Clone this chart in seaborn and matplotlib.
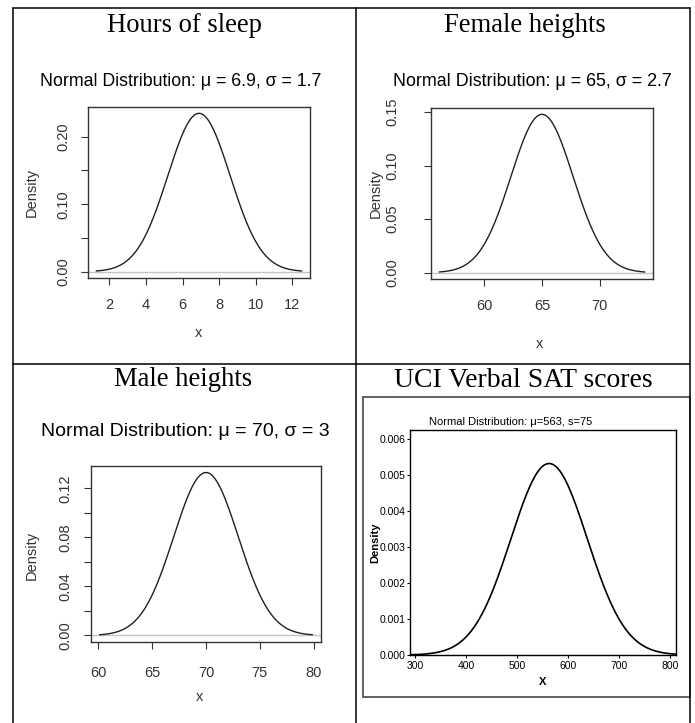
import numpy as np
import pandas as pd
import matplotlib
matplotlib.use("Agg")
import matplotlib.pyplot as plt
from matplotlib.lines import Line2D
from matplotlib.patches import Rectangle
import seaborn as sns

# ---------------- data ----------------
panel_titles = ["Hours of sleep", "Female heights", "Male heights", "UCI Verbal SAT scores"]
subtitles = ["Normal Distribution: \u03bc = 6.9, \u03c3 = 1.7",
             "Normal Distribution: \u03bc = 65, \u03c3 = 2.7",
             "Normal Distribution: \u03bc = 70, \u03c3 = 3",
             "Normal Distribution: \u03bc=563, s=75"]
means = [6.9, 65, 70, 563]
sds = [1.7, 2.7, 3, 75]

xticks_sleep = [2, 4, 6, 8, 10, 12]
yticks_sleep = [0.00, 0.05, 0.10, 0.15, 0.20]
ylabels_sleep = ["0.00", "", "0.10", "", "0.20"]

xticks_female = [60, 65, 70]
yticks_female = [0.00, 0.05, 0.10, 0.15]
ylabels_female = ["0.00", "0.05", "0.10", "0.15"]

xticks_male = [60, 65, 70, 75, 80]
yticks_male = [0.00, 0.02, 0.04, 0.06, 0.08, 0.10, 0.12]
ylabels_male = ["0.00", "", "0.04", "", "0.08", "", "0.12"]

xticks_sat = [300, 400, 500, 600, 700, 800]
yticks_sat = [0.000, 0.001, 0.002, 0.003, 0.004, 0.005, 0.006]
ylabels_sat = ["0.000", "0.001", "0.002", "0.003", "0.004", "0.005", "0.006"]
xlim_sat = (290, 812)
ylim_sat = (0, 0.00625)

# ---------------- figure ----------------
W, H = 695, 723
sns.set_style("white")
plt.rcParams["font.family"] = ["Liberation Sans", "DejaVu Sans"]
fig = plt.figure(figsize=(W / 100, H / 100), dpi=100)
fig.patch.set_facecolor("white")


def px_axes(l, t, r, b):
    return fig.add_axes([l / W, 1 - b / H, (r - l) / W, (b - t) / H])


def ftext(x, y, s, **kw):
    fig.text(x / W, 1 - y / H, s, **kw)


def fline(x1, y1, x2, y2, **kw):
    fig.add_artist(Line2D([x1 / W, x2 / W], [1 - y1 / H, 1 - y2 / H],
                          transform=fig.transFigure, **kw))


# table grid
tbl = dict(color="black", lw=1.1)
fline(13, 8, 690, 8, **tbl)
fline(13, 8, 13, 723, **tbl)
fline(690, 8, 690, 723, **tbl)
fline(356, 8, 356, 723, **tbl)
fline(13, 364, 690, 364, **tbl)

title_pos = [(184, 32, 19.2), (525, 32, 19.2), (183, 386, 19.2), (523, 387, 20.0)]
for (tx, ty, tfs), t in zip(title_pos, panel_titles):
    ftext(tx, ty, t, ha="center", va="baseline", fontsize=tfs,
          family=["Liberation Serif", "DejaVu Serif"], color="black")


def normal_curve(mu, sd, lo, hi, n=301):
    x = np.linspace(lo, hi, n)
    y = np.exp(-0.5 * ((x - mu) / sd) ** 2) / (sd * np.sqrt(2 * np.pi))
    return pd.DataFrame({"x": x, "Density": y})


# R-style panels
r_panels = [
    dict(i=0, box=(88, 107, 310, 278), xt=xticks_sleep, yt=yticks_sleep, yl=ylabels_sleep,
         sub=(181, 82, 12.8), ylab=(32, 192), xlab=(199, 333), xpad=9.5, ypad=7.5),
    dict(i=1, box=(431, 108, 653, 279), xt=xticks_female, yt=yticks_female, yl=ylabels_female,
         sub=(532, 82, 12.9), ylab=(376, 193), xlab=(540, 344), xpad=9.5, ypad=17.5),
    dict(i=2, box=(91, 466, 321, 642), xt=xticks_male, yt=yticks_male, yl=ylabels_male,
         sub=(185, 432, 14.0), ylab=(32, 555), xlab=(200, 697), xpad=12, ypad=8),
]

for p in r_panels:
    i = p["i"]
    mu, sd = means[i], sds[i]
    lo, hi = mu - 3.3 * sd, mu + 3.3 * sd
    df = normal_curve(mu, sd, lo, hi)
    ax = px_axes(*p["box"])
    ax.axhline(0, color="#c4c4c4", lw=1.0, zorder=1)
    sns.lineplot(data=df, x="x", y="Density", ax=ax, color="#202020", lw=1.0, zorder=2)
    ext = 0.04 * (hi - lo)
    ax.set_xlim(lo - ext, hi + ext)
    ymax = df["Density"].max()
    ax.set_ylim(-0.04 * ymax, 1.04 * ymax)
    ax.set_xticks(p["xt"])
    ax.set_xticklabels([str(v) for v in p["xt"]])
    ax.set_yticks(p["yt"])
    ax.set_yticklabels(p["yl"], rotation=90, va="center")
    ax.tick_params(axis="both", direction="out", length=5.2, width=0.8,
                   colors="#333333", labelsize=10.5, labelcolor="#333333")
    ax.tick_params(axis="x", pad=p["xpad"], bottom=True)
    ax.tick_params(axis="y", pad=p["ypad"], left=True)
    ax.set_xlabel("")
    ax.set_ylabel("")
    for s in ax.spines.values():
        s.set_visible(True)
        s.set_color("#333333")
        s.set_linewidth(1.0)
    ax.grid(False)
    sx, sy, sfs = p["sub"]
    ftext(sx, sy, subtitles[i], ha="center", va="center", fontsize=sfs, color="black")
    ftext(*p["ylab"], "Density", ha="center", va="center", rotation=90,
          fontsize=10.5, color="#333333")
    ftext(*p["xlab"], "x", ha="center", va="center", fontsize=10.5, color="#333333")

# Minitab-style panel
narrow = ["Liberation Sans Narrow", "Liberation Sans", "DejaVu Sans"]
fig.add_artist(Rectangle((363 / W, 1 - 697 / H), (690 - 363) / W, (697 - 397) / H,
                         transform=fig.transFigure, fill=False, ec="#555555", lw=1.3))
ax4 = px_axes(410, 430, 676, 655)
df4 = normal_curve(means[3], sds[3], xlim_sat[0], xlim_sat[1])
sns.lineplot(data=df4, x="x", y="Density", ax=ax4, color="black", lw=1.2)
ax4.set_xlim(*xlim_sat)
ax4.set_ylim(*ylim_sat)
ax4.set_xticks(xticks_sat)
ax4.set_xticklabels([str(v) for v in xticks_sat], family=narrow)
ax4.set_yticks(yticks_sat)
ax4.set_yticklabels(ylabels_sat, family=narrow)
ax4.tick_params(axis="both", direction="out", length=2.5, width=0.8, colors="black",
                labelsize=7.5, left=True, bottom=True)
ax4.tick_params(axis="x", pad=2)
ax4.tick_params(axis="y", pad=1)
ax4.set_xlabel("")
ax4.set_ylabel("")
for s in ax4.spines.values():
    s.set_visible(True)
    s.set_color("black")
    s.set_linewidth(1.0)
ax4.grid(False)
ftext(511, 422, subtitles[3], ha="center", va="center", fontsize=8.0,
      family=narrow, color="black")
ftext(375, 543, "Density", ha="center", va="center", rotation=90, fontsize=8,
      fontweight="bold", family=narrow, color="black")
ftext(543, 682, "X", ha="center", va="center", fontsize=8, fontweight="bold",
      family=narrow, color="black")

fig.savefig("out.png", dpi=100)
